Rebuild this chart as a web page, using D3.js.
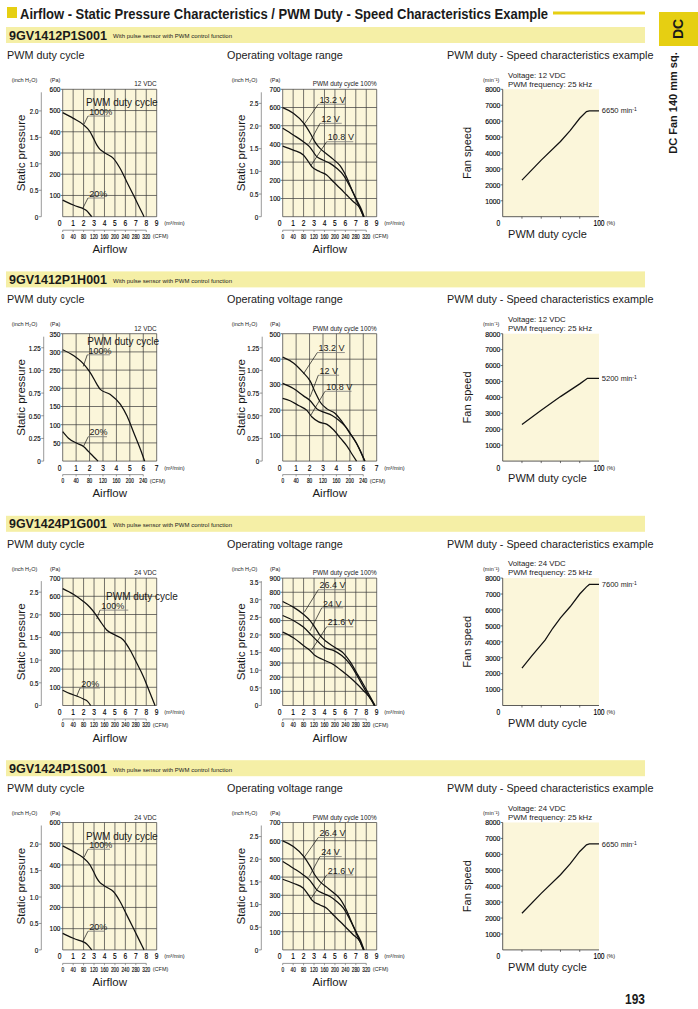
<!DOCTYPE html>
<html><head><meta charset="utf-8">
<script src="https://cdn.jsdelivr.net/npm/d3@7"></script>
<style>
body{margin:0;background:#fff;}
svg{display:block;}
text{font-family:'Liberation Sans',Arial,sans-serif;fill:#1a1a1a;}
text.num{fill:#000;stroke:#000;stroke-width:0.15;}
</style></head><body>
<svg id="c" width="698" height="1009"></svg>
<script>
// ---------- DATA ----------
const pageTitle = "Airflow - Static Pressure Characteristics / PWM Duty - Speed Characteristics Example";
const sideTab = "DC";
const sideText = "DC Fan 140 mm sq.";
const pageNumber = "193";
const models = ["9GV1412P1S001","9GV1412P1H001","9GV1424P1G001","9GV1424P1S001"];
const modelNote = "With pulse sensor with PWM control function";
const subtitles = ["PWM duty cycle","Operating voltage range","PWM duty - Speed characteristics example"];
const rated = ["12 VDC","12 VDC","24 VDC","24 VDC"];
const voltNames = [["13.2 V","12 V","10.8 V"],["13.2 V","12 V","10.8 V"],["26.4 V","24 V","21.6 V"],["26.4 V","24 V","21.6 V"]];
const dutyNames = ["100%","20%"];
const speedMax = [6650,5200,7600,6650];

// axis ticks
const flowTicks9 = [0,1,2,3,4,5,6,7,8,9];
const flowTicks7 = [0,1,2,3,4,5,6,7];
const cfmTicks9 = [0,40,80,120,160,200,240,280,320];
const cfmTicks7 = [0,40,80,120,160,200,240];
const paTicks600 = [100,200,300,400,500,600];
const paTicks700 = [100,200,300,400,500,600,700];
const paTicks350 = [50,100,150,200,250,300,350];
const paTicks500 = [100,200,300,400,500];
const paTicks900 = [100,200,300,400,500,600,700,800,900];
const inchTicks20 = [0,0.5,1.0,1.5,2.0];
const inchLabels20 = ["0","0.5","1.0","1.5","2.0"];
const inchTicks25 = [0,0.5,1.0,1.5,2.0,2.5];
const inchLabels25 = ["0","0.5","1.0","1.5","2.0","2.5"];
const inchTicks35 = [0,0.5,1.0,1.5,2.0,2.5,3.0,3.5];
const inchLabels35 = ["0","0.5","1.0","1.5","2.0","2.5","3.0","3.5"];
const inchTicks125 = [0,0.25,0.5,0.75,1.0,1.25];
const inchLabels125 = ["0","0.25","0.50","0.75","1.00","1.25"];
const speedTicks = [1000,2000,3000,4000,5000,6000,7000,8000];
const dutyTicks = [20,40,60,80];

// PQ curves [flow m3/min, Pa]
const duty100_S = [[0,490],[1.02,463],[1.91,436],[2.62,400],[2.94,370],[3.26,338],[3.57,317],[3.9,305],[4.21,295],[4.85,275],[5.49,228],[6.13,165],[6.77,102],[7.4,39],[7.79,0]];
const duty20_S  = [[0,78],[0.5,66],[1.02,55],[1.5,46],[1.91,39],[2.3,28],[2.55,14],[2.78,0]];
const duty100_H = [[0,306],[0.8,290],[1.55,267],[2.05,243],[2.55,211],[2.8,197],[3.55,183],[4.3,156],[4.8,123],[5.3,77],[5.8,31],[6.1,0]];
const duty20_H  = [[0,81],[0.43,63],[1.05,49],[1.55,40],[1.93,26],[2.3,12],[2.63,0]];
const duty100_G = [[0,642],[1.02,611],[1.98,572],[2.6,540],[3.1,505],[3.57,465],[4.21,415],[5.01,387],[5.81,360],[6.45,305],[7.09,233],[7.72,160],[8.36,69],[8.84,0]];
const duty20_G  = [[0,84],[0.7,65],[1.4,51],[1.98,36],[2.36,24],[2.68,0]];

const voltHi_S  = [[0,599],[1.02,568],[2.07,510],[2.62,460],[3.1,410],[3.57,375],[4.21,345],[4.85,315],[5.49,280],[6.13,215],[6.61,150],[7.09,85],[7.56,25],[7.79,0]];
const voltMid_S = [[0,486],[1.02,449],[1.98,412],[2.62,381],[3.26,330],[3.9,310],[4.53,293],[5.17,266],[5.81,229],[6.45,165],[7.09,92],[7.56,37],[7.79,0]];
const voltLo_S  = [[0,388],[1.02,366],[1.98,339],[2.46,302],[2.78,275],[3.57,247],[4.21,229],[4.85,192],[5.49,156],[6.13,119],[6.77,82],[7.4,46],[7.72,0]];
const voltHi_H  = [[0,408],[0.8,385],[1.55,346],[2.05,314],[2.43,269],[2.8,231],[3.3,205],[3.93,186],[4.43,154],[4.93,115],[5.43,77],[5.8,38],[6.13,0]];
const voltMid_H = [[0,305],[0.8,285],[1.55,256],[2.05,237],[2.55,205],[3.05,192],[3.68,179],[4.18,160],[4.68,135],[5.18,96],[5.68,51],[6.1,0]];
const voltLo_H  = [[0,246],[0.55,237],[1.18,218],[1.8,199],[2.18,173],[2.68,154],[3.3,144],[3.8,122],[4.3,90],[4.8,58],[5.18,26],[5.5,0]];
const voltHi_G  = [[0,735],[1.02,695],[1.98,645],[2.62,600],[3.1,550],[3.57,495],[4.21,450],[5.01,410],[5.81,370],[6.45,310],[7.09,230],[7.72,150],[8.36,65],[8.84,0]];
const voltMid_G = [[0,636],[1.02,601],[1.98,554],[2.78,495],[3.42,448],[4.05,408],[4.85,389],[5.65,353],[6.29,306],[6.93,236],[7.56,153],[8.3,59],[8.84,0]];
const voltLo_G  = [[0,518],[1.02,478],[1.98,424],[2.62,389],[3.1,353],[3.89,323],[4.85,290],[5.81,236],[6.77,177],[7.72,106],[8.52,35],[8.75,0]];

// speed curves [duty %, min-1]
const speed_S = [[20,2300],[40,3550],[60,4720],[70,5400],[80,6180],[87,6600],[90,6650],[100,6650]];
const speed_H = [[20,2300],[40,3200],[60,4050],[80,4850],[88,5200],[100,5200]];
const speed_G = [[20,2350],[30,3100],[44,4100],[52,4850],[60,5500],[70,6200],[80,7000],[87,7450],[90,7600],[100,7600]];

// annotation anchors in data units: [underline flow start, Pa, underline flow end, leader flow, leader Pa]
const pwmLabelAt = [[2.23,519],[1.83,320],[4.15,581],[2.23,519]];
const dutyAnn_S = [[2.42,474,4.53,2.04,436],[2.42,88,4.05,1.94,41]];
const dutyAnn_H = [[1.83,292,3.52,1.53,260],[1.9,67,3.3,1.53,39]];
const dutyAnn_G = [[3.57,524,6.28,3.26,475],[1.66,96,3.57,1.34,51]];
const voltAnn_S = [[3.41,618,5.97,2.07,509],[3.57,513,5.65,2.55,404],[4.21,412,6.76,2.68,279]];
const voltAnn_H = [[2.58,426,4.63,1.53,341],[2.65,337,4.2,2.04,252],[3.15,274,5.13,2.09,180]];
const voltAnn_G = [[3.41,818,5.97,2.07,659],[3.74,690,5.8,2.62,528],[4.21,556,6.76,2.78,393]];

// ---------- STYLE ----------
const YEL = "#e6cf12", BAR = "#f5efa6", CREAM = "#fbf6da", GRID = "#3a3a3a";
const PA_PER_INCH = 249.09;
const STEP = 244.4;

const svg = d3.select("#c");

// condensed look: squeeze numeric labels to a per-character width
function squeeze(sel, dw){
  sel.classed("num", true).each(function(){
    const s = this.textContent;
    let w = 0;
    for(const ch of s){ w += (ch==='.') ? dw*0.42 : dw; }
    this.setAttribute("textLength", w);
    this.setAttribute("lengthAdjust","spacingAndGlyphs");
  });
  return sel;
}

// header
svg.append("rect").attr("x",7).attr("y",7).attr("width",10).attr("height",11).attr("fill",YEL);
svg.append("text").attr("x",20).attr("y",18.5).attr("font-weight","bold").attr("font-size",14)
  .attr("textLength",528).attr("lengthAdjust","spacingAndGlyphs").text(pageTitle);
svg.append("rect").attr("x",553).attr("y",11.5).attr("width",92).attr("height",3).attr("fill",YEL);
svg.append("rect").attr("x",659).attr("y",12).attr("width",39).attr("height",34).attr("fill",YEL);
svg.append("text").attr("transform","translate(683,29) rotate(-90)").attr("text-anchor","middle")
  .attr("font-weight","bold").attr("font-size",14).text(sideTab);
svg.append("text").attr("transform","translate(677,103) rotate(-90)").attr("text-anchor","middle")
  .attr("font-weight","bold").attr("font-size",11).text(sideText);
svg.append("text").attr("x",625).attr("y",1003.5).attr("font-weight","bold").attr("font-size",14)
  .attr("textLength",20).attr("lengthAdjust","spacingAndGlyphs").text(pageNumber);

function lineGen(x,y){ return d3.line().x(d=>x(d[0])).y(d=>y(d[1])).curve(d3.curveMonotoneX); }

function drawPQ(o){
  const g = svg.append("g");
  const x = d3.scaleLinear().domain([0,o.flowMax]).range([o.x0,o.x0+94]);
  const y = d3.scaleLinear().domain([0,o.paMax]).range([o.bottom,o.top]);
  const yin = d3.scaleLinear().domain([0,o.inchRefPa/PA_PER_INCH]).range([o.bottom,o.top]);
  const xc = d3.scaleLinear().domain([0,40]).range([o.x0, x(1)]);
  // background
  g.append("rect").attr("x",x(0)).attr("y",o.top).attr("width",x(o.flowMax)-x(0)).attr("height",o.bottom-o.top).attr("fill",CREAM);
  // grid
  g.selectAll(null).data(o.flowTicks).join("line")
    .attr("x1",d=>x(d)).attr("x2",d=>x(d)).attr("y1",o.top).attr("y2",o.bottom)
    .attr("stroke",GRID).attr("stroke-width",0.7);
  g.selectAll(null).data([0].concat(o.paTicks)).join("line")
    .attr("x1",x(0)).attr("x2",x(o.flowMax)).attr("y1",d=>y(d)).attr("y2",d=>y(d))
    .attr("stroke",GRID).attr("stroke-width",0.7);
  // Pa ticks & labels
  g.selectAll(null).data(o.paTicks).join("line")
    .attr("x1",x(0)-2).attr("x2",x(0)).attr("y1",d=>y(d)).attr("y2",d=>y(d)).attr("stroke",GRID).attr("stroke-width",0.7);
  squeeze(g.selectAll(null).data(o.paTicks).join("text")
    .attr("x",x(0)-2.3).attr("y",d=>y(d)).attr("dy","0.35em").attr("text-anchor","end")
    .attr("font-size",8).text(d=>d), 3.6);
  // inch axis
  const ax = x(0)-o.inchOff;
  g.append("line").attr("x1",ax).attr("x2",ax).attr("y1",o.bottom).attr("y2",o.top+3).attr("stroke","#555").attr("stroke-width",0.6);
  g.selectAll(null).data(o.inchTicks).join("line")
    .attr("x1",ax-2.5).attr("x2",ax).attr("y1",d=>yin(d)).attr("y2",d=>yin(d)).attr("stroke","#555").attr("stroke-width",0.6);
  squeeze(g.selectAll(null).data(o.inchTicks).join("text")
    .attr("x",ax-3).attr("y",d=>yin(d)).attr("dy","0.35em").attr("text-anchor","end")
    .attr("font-size",8).text((d,i)=>o.inchLabels[i]), 3.5);
  // unit labels
  g.append("text").attr("x",x(0)-38.2).attr("y",o.top-7.5).attr("text-anchor","middle").attr("font-size",5.5).text("(inch H\u2082O)");
  g.append("text").attr("x",x(0)-12.7).attr("y",o.top-7.5).attr("font-size",5.5).text("(Pa)");
  g.append("text").attr("x",x(o.flowMax)).attr("y",o.top-3).attr("text-anchor","end").attr("font-size",6.4).text(o.corner);
  // flow axis labels
  squeeze(g.selectAll(null).data(o.flowTicks).join("text")
    .attr("x",d=> d===0 ? x(d)-3 : x(d)).attr("y",o.bottom+6.6).attr("dy","0.35em").attr("text-anchor","middle")
    .attr("font-size",8.2).text(d=>d), 3.7);
  g.append("text").attr("x",x(o.flowMax)+7.5).attr("y",o.bottom+6.6).attr("dy","0.35em").attr("font-size",5.5).text("(m\u00b3/min)");
  // CFM axis
  const cfmMax = o.cfmTicks[o.cfmTicks.length-1];
  const cy = o.bottom+13.5;
  g.append("line").attr("x1",xc(0)).attr("x2",xc(cfmMax)).attr("y1",cy).attr("y2",cy).attr("stroke","#555").attr("stroke-width",0.6);
  g.selectAll(null).data(o.cfmTicks).join("line")
    .attr("x1",d=>xc(d)).attr("x2",d=>xc(d)).attr("y1",cy).attr("y2",cy+1.8).attr("stroke","#555").attr("stroke-width",0.6);
  squeeze(g.selectAll(null).data(o.cfmTicks).join("text")
    .attr("x",d=>xc(d)).attr("y",cy+6).attr("dy","0.35em").attr("text-anchor","middle")
    .attr("font-size",6.6).text(d=>d), 2.65);
  g.append("text").attr("x",xc(cfmMax)+6.5).attr("y",cy+6).attr("dy","0.35em").attr("font-size",5.5).text("(CFM)");
  // axis titles
  g.append("text").attr("x",(x(0)+x(o.flowMax))/2).attr("y",o.bottom+36.3).attr("text-anchor","middle").attr("font-size",11.5).text("Airflow");
  g.append("text").attr("transform",`translate(${x(0)-37.8},${(o.top+o.bottom)/2}) rotate(-90)`)
    .attr("text-anchor","middle").attr("font-size",11.5).text("Static pressure");
  // curves
  const lg = lineGen(x,y);
  o.curves.forEach(c=>{
    g.append("path").attr("d",lg(c)).attr("fill","none").attr("stroke","#111").attr("stroke-width",1.25);
  });
  // heading label
  if(o.heading){
    g.append("text").attr("x",x(o.heading[0])).attr("y",y(o.heading[1])).attr("font-size",10).text("PWM duty cycle");
  }
  // annotations
  o.ann.forEach((a,i)=>{
    const ux=x(a[0]), uy=y(a[1]), ux2=x(a[2]);
    g.append("line").attr("x1",ux).attr("x2",ux2).attr("y1",uy).attr("y2",uy).attr("stroke","#777").attr("stroke-width",0.8);
    g.append("line").attr("x1",ux).attr("x2",x(a[3])).attr("y1",uy).attr("y2",y(a[4])).attr("stroke","#111").attr("stroke-width",0.7);
    g.append("text").attr("x",ux+1.2).attr("y",uy-1.3).attr("font-size",9).text(o.annText[i]);
  });
}

function drawSpeed(o){
  const g = svg.append("g");
  const x = d3.scaleLinear().domain([0,100]).range([o.x0,o.x0+96.3]);
  const y = d3.scaleLinear().domain([0,8000]).range([o.bottom,o.top]);
  g.append("rect").attr("x",x(0)).attr("y",o.top).attr("width",x(100)-x(0)).attr("height",o.bottom-o.top).attr("fill",CREAM);
  g.append("line").attr("x1",x(0)).attr("x2",x(0)).attr("y1",o.top).attr("y2",o.bottom).attr("stroke","#333").attr("stroke-width",0.8);
  g.append("line").attr("x1",x(0)).attr("x2",x(100)).attr("y1",o.bottom).attr("y2",o.bottom).attr("stroke","#333").attr("stroke-width",0.8);
  g.selectAll(null).data(o.speedTicks).join("line")
    .attr("x1",x(0)-2).attr("x2",x(0)).attr("y1",d=>y(d)).attr("y2",d=>y(d)).attr("stroke","#333").attr("stroke-width",0.7);
  squeeze(g.selectAll(null).data(o.speedTicks).join("text")
    .attr("x",x(0)-2.3).attr("y",d=>y(d)).attr("dy","0.35em").attr("text-anchor","end")
    .attr("font-size",8).text(d=>d), 3.8);
  g.selectAll(null).data(o.dutyTicks).join("line")
    .attr("x1",d=>x(d)).attr("x2",d=>x(d)).attr("y1",o.bottom).attr("y2",o.bottom+2).attr("stroke","#333").attr("stroke-width",0.7);
  squeeze(g.append("text").attr("x",x(0)-4.4).attr("y",o.bottom+6.6).attr("dy","0.35em").attr("text-anchor","middle")
    .attr("font-size",8.2).text("0"), 3.7);
  squeeze(g.append("text").attr("x",x(100)).attr("y",o.bottom+6.6).attr("dy","0.35em").attr("text-anchor","middle")
    .attr("font-size",8.2).text("100"), 3.7);
  g.append("text").attr("x",x(100)+7.5).attr("y",o.bottom+6.6).attr("dy","0.35em").attr("font-size",5.5).text("(%)");
  g.append("text").attr("x",x(0)-19.7).attr("y",o.top-7.3).attr("font-size",5.5).text("(min\u207b\u00b9)");
  g.append("text").attr("x",x(0)+5.3).attr("y",o.top-11.8).attr("font-size",7.8).text("Voltage: "+o.voltage);
  g.append("text").attr("x",x(0)+5.3).attr("y",o.top-2.8).attr("font-size",7.8).text("PWM frequency: 25 kHz");
  g.append("text").attr("transform",`translate(${x(0)-32},${(o.top+o.bottom)/2}) rotate(-90)`)
    .attr("text-anchor","middle").attr("font-size",11).text("Fan speed");
  g.append("text").attr("x",547.5).attr("y",o.bottom+21).attr("text-anchor","middle").attr("font-size",11).text("PWM duty cycle");
  g.append("path").attr("d",d3.line().x(d=>x(d[0])).y(d=>y(d[1]))(o.curve))
    .attr("fill","none").attr("stroke","#111").attr("stroke-width",1.25);
  const lab = g.append("text").attr("x",x(100)+2.7).attr("y",y(o.max)).attr("dy","0.35em").attr("font-size",7.2);
  lab.append("tspan").attr("font-size",7.6).text(o.max+" ");
  lab.append("tspan").text("min");
  lab.append("tspan").attr("dy","-0.4em").attr("font-size",5).text("-1");
}

// ---------- LAYOUT ----------
const pqLeft = [
  {flowMax:9, flowTicks:flowTicks9, cfmTicks:cfmTicks9, paMax:600, paTicks:paTicks600, inchRefPa:600, inchTicks:inchTicks20, inchLabels:inchLabels20, inchOff:21.4, curves:[duty100_S,duty20_S], ann:dutyAnn_S},
  {flowMax:7, flowTicks:flowTicks7, cfmTicks:cfmTicks7, paMax:350, paTicks:paTicks350, inchRefPa:350, inchTicks:inchTicks125, inchLabels:inchLabels125, inchOff:19, curves:[duty100_H,duty20_H], ann:dutyAnn_H},
  {flowMax:9, flowTicks:flowTicks9, cfmTicks:cfmTicks9, paMax:700, paTicks:paTicks700, inchRefPa:700, inchTicks:inchTicks25, inchLabels:inchLabels25, inchOff:21.4, curves:[duty100_G,duty20_G], ann:dutyAnn_G},
  {flowMax:9, flowTicks:flowTicks9, cfmTicks:cfmTicks9, paMax:600, paTicks:paTicks600, inchRefPa:600, inchTicks:inchTicks20, inchLabels:inchLabels20, inchOff:21.4, curves:[duty100_S,duty20_S], ann:dutyAnn_S}
];
const pqMid = [
  {flowMax:9, flowTicks:flowTicks9, cfmTicks:cfmTicks9, paMax:700, paTicks:paTicks700, inchRefPa:700, inchTicks:inchTicks25, inchLabels:inchLabels25, inchOff:21.4, curves:[voltHi_S,voltMid_S,voltLo_S], ann:voltAnn_S},
  {flowMax:7, flowTicks:flowTicks7, cfmTicks:cfmTicks7, paMax:500, paTicks:paTicks500, inchRefPa:350, inchTicks:inchTicks125, inchLabels:inchLabels125, inchOff:20.5, curves:[voltHi_H,voltMid_H,voltLo_H], ann:voltAnn_H},
  {flowMax:9, flowTicks:flowTicks9, cfmTicks:cfmTicks9, paMax:900, paTicks:paTicks900, inchRefPa:900, inchTicks:inchTicks35, inchLabels:inchLabels35, inchOff:21.4, curves:[voltHi_G,voltMid_G,voltLo_G], ann:voltAnn_G},
  {flowMax:9, flowTicks:flowTicks9, cfmTicks:cfmTicks9, paMax:700, paTicks:paTicks700, inchRefPa:700, inchTicks:inchTicks25, inchLabels:inchLabels25, inchOff:21.4, curves:[voltHi_S,voltMid_S,voltLo_S], ann:voltAnn_S}
];
const speedCurves = [speed_S, speed_H, speed_G, speed_S];

models.forEach((m,i)=>{
  const b = i*STEP;
  svg.append("rect").attr("x",6).attr("y",27+b).attr("width",639).attr("height",16).attr("fill",BAR);
  svg.append("text").attr("x",9).attr("y",39.5+b).attr("font-weight","bold").attr("font-size",12.5)
    .attr("textLength",98).attr("lengthAdjust","spacingAndGlyphs").text(m);
  svg.append("text").attr("x",113).attr("y",38.3+b).attr("font-size",6)
    .attr("textLength",119).attr("lengthAdjust","spacingAndGlyphs").text(modelNote);
  [7,227,447].forEach((sx,k)=>{
    svg.append("text").attr("x",sx).attr("y",59+b).attr("font-size",10.8).text(subtitles[k]);
  });
  const top = 89.3+b, bottom = 216.7+b;
  drawPQ(Object.assign({x0:62.7, top, bottom, corner:rated[i], heading:pwmLabelAt[i], annText:dutyNames}, pqLeft[i]));
  drawPQ(Object.assign({x0:282.7, top, bottom, corner:"PWM duty cycle 100%", heading:null, annText:voltNames[i]}, pqMid[i]));
  drawSpeed({x0:502.7, top, bottom, speedTicks, dutyTicks, voltage:rated[i], curve:speedCurves[i], max:speedMax[i]});
});
</script>
</body></html>
